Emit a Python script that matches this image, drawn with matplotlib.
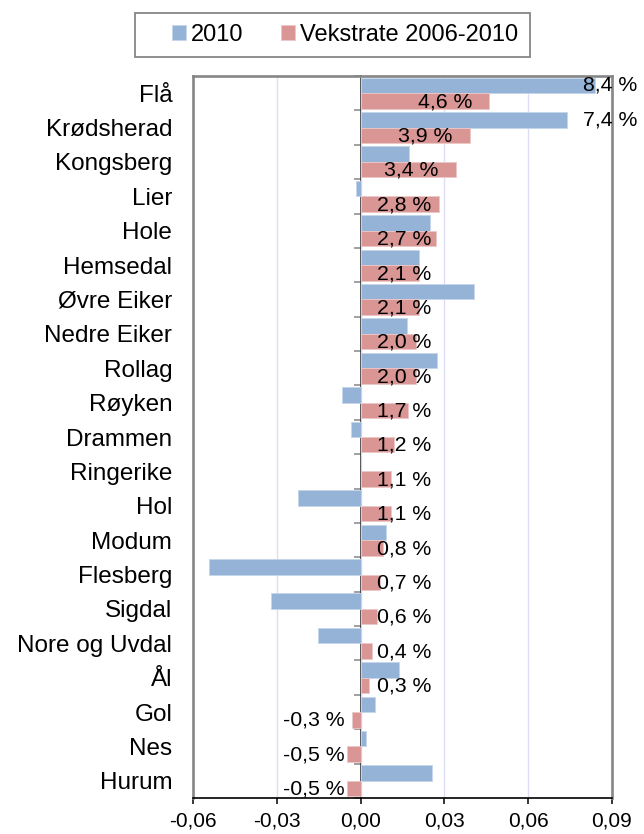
import matplotlib
matplotlib.use('Agg')
import matplotlib.pyplot as plt
import numpy as np
from matplotlib.ticker import FuncFormatter
from matplotlib.transforms import blended_transform_factory
from matplotlib.patches import Rectangle

plt.rcParams['font.family'] = ['Liberation Sans', 'DejaVu Sans']

kommuner = ['Flå', 'Krødsherad', 'Kongsberg', 'Lier', 'Hole', 'Hemsedal',
            'Øvre Eiker', 'Nedre Eiker', 'Rollag', 'Røyken', 'Drammen',
            'Ringerike', 'Hol', 'Modum', 'Flesberg', 'Sigdal',
            'Nore og Uvdal', 'Ål', 'Gol', 'Nes', 'Hurum']
verdi_2010 = [0.084, 0.074, 0.0172, -0.0015, 0.0247, 0.021, 0.0405, 0.0165,
              0.0272, -0.0066, -0.0036, 0.0, -0.0224, 0.009, -0.0543, -0.0321,
              -0.0153, 0.0137, 0.005, 0.002, 0.0257]
vekstrate = [0.046, 0.039, 0.034, 0.028, 0.027, 0.021, 0.021, 0.020, 0.020,
             0.017, 0.012, 0.011, 0.011, 0.008, 0.007, 0.006, 0.004, 0.003,
             -0.003, -0.005, -0.005]
etiketter_2010 = {0: '8,4 %', 1: '7,4 %'}
xticks = [-0.06, -0.03, 0.00, 0.03, 0.06, 0.09]

blaa = '#95b3d7'
roed = '#d99694'
graa = '#868686'

fig = plt.figure(figsize=(6.44, 8.34), dpi=100)
ax = fig.add_axes([193/644, 1-798/834, 419/644, 722/834])

y = np.arange(len(kommuner))
h = 0.45
b1 = ax.barh(y - h/2, verdi_2010, height=h, color=blaa, edgecolor='#c5d5ea',
             linewidth=0.6, zorder=2, label='2010')
b2 = ax.barh(y + h/2, vekstrate, height=h, color=roed, edgecolor='#ecc8c7',
             linewidth=0.6, zorder=2, label='Vekstrate 2006-2010')

ax.set_xlim(-0.06, 0.09)
ax.set_ylim(len(kommuner) - 0.5, -0.5)
ax.set_xticks(xticks)
ax.xaxis.set_major_formatter(FuncFormatter(lambda v, p: f'{v:.2f}'.replace('.', ',')))
ax.set_yticks(y)
ax.set_yticklabels(kommuner)
ax.tick_params(axis='y', length=0, pad=15, labelsize=17.5)
ax.tick_params(axis='x', length=4.5, width=1.1, color='black', pad=5, labelsize=15)
ax.grid(axis='x', color='#dcdcf5', linewidth=1.0, zorder=0)
ax.set_axisbelow(True)

for s in ['left', 'top', 'right']:
    ax.spines[s].set_color(graa)
    ax.spines[s].set_linewidth(1.9)
ax.spines['bottom'].set_color('black')
ax.spines['bottom'].set_linewidth(1.2)

# nullinje med små tikkmerker mellom kategoriene
null = (0 - xticks[0]) / (xticks[-1] - xticks[0])
sec = ax.secondary_yaxis(null)
sec.set_yticks(np.arange(len(kommuner) + 1) - 0.5)
sec.tick_params(axis='y', direction='out', length=5, width=1.1, color=graa,
                labelleft=False, labelright=False)
sec.spines['left'].set_color('black')
sec.spines['left'].set_linewidth(1.1)
sec.spines['left'].set_zorder(5)

# dataetiketter, vekstrate
for i, v in enumerate(vekstrate):
    tekst = f'{v*100:.1f} %'.replace('.', ',')
    yy = i + h/2
    if v < 0:
        ax.annotate(tekst, (0, yy), xytext=(-11.5, -0.5), textcoords='offset points',
                    ha='right', va='center', fontsize=15.3, zorder=4)
    elif v > 0.03:
        ax.annotate(tekst, (v, yy), xytext=(-12.2, -0.5), textcoords='offset points',
                    ha='right', va='center', fontsize=15.3, zorder=4)
    else:
        ax.annotate(tekst, (0, yy), xytext=(11.5, -0.5), textcoords='offset points',
                    ha='left', va='center', fontsize=15.3, zorder=4)

trans = blended_transform_factory(ax.transAxes, ax.transData)
for i, tekst in etiketter_2010.items():
    ax.text(1.06, i - h/2, tekst, transform=trans, ha='right', va='center',
            fontsize=15.3, clip_on=False, zorder=4)

# legende
fig.patches.append(Rectangle((135/644, 1-57/834), 395/644, 44/834,
                             transform=fig.transFigure, fill=False,
                             edgecolor=graa, linewidth=1.3))
fig.legend(handles=[b1, b2], loc='center', bbox_to_anchor=(345/644, 1-35/834),
           ncol=2, fontsize=17, frameon=False, handlelength=0.6,
           handleheight=0.6, handletextpad=0.2, columnspacing=1.6)

fig.savefig('out.png', dpi=100)
